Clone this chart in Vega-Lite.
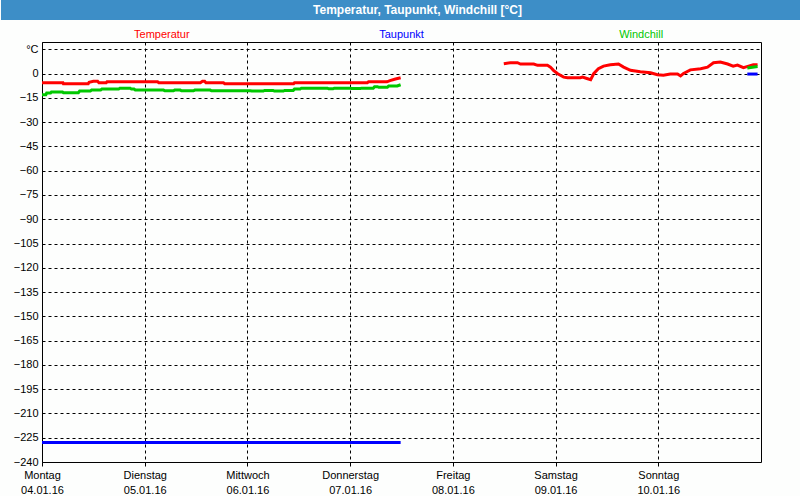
{
  "$schema": "https://vega.github.io/schema/vega-lite/v6.json",
  "background": "#fdfefd",
  "padding": 0,
  "spacing": 8,
  "config": {
    "font": "Liberation Sans",
    "view": {"stroke": "black", "strokeWidth": 1},
    "axis": {
      "labelFont": "Liberation Sans",
      "labelFontSize": 11,
      "labelColor": "black",
      "gridColor": "black",
      "gridDash": [3, 3],
      "gridWidth": 1,
      "gridOpacity": 1,
      "domain": false,
      "tickColor": "black"
    }
  },
  "datasets": {
    "messwerte": [
      {"serie": "Temperatur", "abschnitt": 1, "zeit": "2016-01-04T00:00", "wert": -5.7},
      {"serie": "Temperatur", "abschnitt": 1, "zeit": "2016-01-04T04:54", "wert": -5.7},
      {"serie": "Temperatur", "abschnitt": 1, "zeit": "2016-01-04T05:00", "wert": -6.3},
      {"serie": "Temperatur", "abschnitt": 1, "zeit": "2016-01-04T10:48", "wert": -6.3},
      {"serie": "Temperatur", "abschnitt": 1, "zeit": "2016-01-04T11:00", "wert": -5.4},
      {"serie": "Temperatur", "abschnitt": 1, "zeit": "2016-01-04T12:00", "wert": -4.8},
      {"serie": "Temperatur", "abschnitt": 1, "zeit": "2016-01-04T13:00", "wert": -4.8},
      {"serie": "Temperatur", "abschnitt": 1, "zeit": "2016-01-04T13:18", "wert": -5.7},
      {"serie": "Temperatur", "abschnitt": 1, "zeit": "2016-01-04T15:00", "wert": -5.7},
      {"serie": "Temperatur", "abschnitt": 1, "zeit": "2016-01-04T15:12", "wert": -5.1},
      {"serie": "Temperatur", "abschnitt": 1, "zeit": "2016-01-05T03:00", "wert": -5.1},
      {"serie": "Temperatur", "abschnitt": 1, "zeit": "2016-01-05T03:18", "wert": -5.7},
      {"serie": "Temperatur", "abschnitt": 1, "zeit": "2016-01-05T13:00", "wert": -5.7},
      {"serie": "Temperatur", "abschnitt": 1, "zeit": "2016-01-05T13:30", "wert": -4.8},
      {"serie": "Temperatur", "abschnitt": 1, "zeit": "2016-01-05T14:00", "wert": -4.8},
      {"serie": "Temperatur", "abschnitt": 1, "zeit": "2016-01-05T14:18", "wert": -5.7},
      {"serie": "Temperatur", "abschnitt": 1, "zeit": "2016-01-05T18:24", "wert": -5.7},
      {"serie": "Temperatur", "abschnitt": 1, "zeit": "2016-01-05T18:42", "wert": -6.3},
      {"serie": "Temperatur", "abschnitt": 1, "zeit": "2016-01-06T10:48", "wert": -6.3},
      {"serie": "Temperatur", "abschnitt": 1, "zeit": "2016-01-06T11:00", "wert": -5.7},
      {"serie": "Temperatur", "abschnitt": 1, "zeit": "2016-01-07T04:00", "wert": -5.7},
      {"serie": "Temperatur", "abschnitt": 1, "zeit": "2016-01-07T04:18", "wert": -5.1},
      {"serie": "Temperatur", "abschnitt": 1, "zeit": "2016-01-07T08:36", "wert": -5.1},
      {"serie": "Temperatur", "abschnitt": 1, "zeit": "2016-01-07T09:18", "wert": -4.4},
      {"serie": "Temperatur", "abschnitt": 1, "zeit": "2016-01-07T10:36", "wert": -3.4},
      {"serie": "Temperatur", "abschnitt": 1, "zeit": "2016-01-07T11:48", "wert": -2.6},

      {"serie": "Temperatur", "abschnitt": 2, "zeit": "2016-01-08T11:54", "wert": 6.1},
      {"serie": "Temperatur", "abschnitt": 2, "zeit": "2016-01-08T13:30", "wert": 6.7},
      {"serie": "Temperatur", "abschnitt": 2, "zeit": "2016-01-08T15:06", "wert": 6.7},
      {"serie": "Temperatur", "abschnitt": 2, "zeit": "2016-01-08T15:48", "wert": 5.9},
      {"serie": "Temperatur", "abschnitt": 2, "zeit": "2016-01-08T18:54", "wert": 5.9},
      {"serie": "Temperatur", "abschnitt": 2, "zeit": "2016-01-08T19:48", "wert": 5.1},
      {"serie": "Temperatur", "abschnitt": 2, "zeit": "2016-01-08T22:06", "wert": 5.1},
      {"serie": "Temperatur", "abschnitt": 2, "zeit": "2016-01-08T22:48", "wert": 4.0},
      {"serie": "Temperatur", "abschnitt": 2, "zeit": "2016-01-08T23:30", "wert": 2.0},
      {"serie": "Temperatur", "abschnitt": 2, "zeit": "2016-01-09T00:30", "wert": -0.1},
      {"serie": "Temperatur", "abschnitt": 2, "zeit": "2016-01-09T01:54", "wert": -2.2},
      {"serie": "Temperatur", "abschnitt": 2, "zeit": "2016-01-09T02:48", "wert": -2.6},
      {"serie": "Temperatur", "abschnitt": 2, "zeit": "2016-01-09T05:48", "wert": -2.6},
      {"serie": "Temperatur", "abschnitt": 2, "zeit": "2016-01-09T06:18", "wert": -2.2},
      {"serie": "Temperatur", "abschnitt": 2, "zeit": "2016-01-09T07:30", "wert": -3.2},
      {"serie": "Temperatur", "abschnitt": 2, "zeit": "2016-01-09T08:12", "wert": -3.8},
      {"serie": "Temperatur", "abschnitt": 2, "zeit": "2016-01-09T08:54", "wert": -0.1},
      {"serie": "Temperatur", "abschnitt": 2, "zeit": "2016-01-09T10:00", "wert": 3.0},
      {"serie": "Temperatur", "abschnitt": 2, "zeit": "2016-01-09T11:12", "wert": 4.6},
      {"serie": "Temperatur", "abschnitt": 2, "zeit": "2016-01-09T12:48", "wert": 5.4},
      {"serie": "Temperatur", "abschnitt": 2, "zeit": "2016-01-09T14:42", "wert": 5.9},
      {"serie": "Temperatur", "abschnitt": 2, "zeit": "2016-01-09T15:54", "wert": 4.0},
      {"serie": "Temperatur", "abschnitt": 2, "zeit": "2016-01-09T17:30", "wert": 2.0},
      {"serie": "Temperatur", "abschnitt": 2, "zeit": "2016-01-09T19:48", "wert": 1.1},
      {"serie": "Temperatur", "abschnitt": 2, "zeit": "2016-01-09T22:12", "wert": 0.5},
      {"serie": "Temperatur", "abschnitt": 2, "zeit": "2016-01-09T23:48", "wert": -0.7},
      {"serie": "Temperatur", "abschnitt": 2, "zeit": "2016-01-10T01:12", "wert": -1.1},
      {"serie": "Temperatur", "abschnitt": 2, "zeit": "2016-01-10T02:48", "wert": -0.3},
      {"serie": "Temperatur", "abschnitt": 2, "zeit": "2016-01-10T04:30", "wert": -0.3},
      {"serie": "Temperatur", "abschnitt": 2, "zeit": "2016-01-10T05:12", "wert": -1.5},
      {"serie": "Temperatur", "abschnitt": 2, "zeit": "2016-01-10T05:54", "wert": 0.1},
      {"serie": "Temperatur", "abschnitt": 2, "zeit": "2016-01-10T07:30", "wert": 2.3},
      {"serie": "Temperatur", "abschnitt": 2, "zeit": "2016-01-10T09:54", "wert": 3.0},
      {"serie": "Temperatur", "abschnitt": 2, "zeit": "2016-01-10T11:30", "wert": 4.0},
      {"serie": "Temperatur", "abschnitt": 2, "zeit": "2016-01-10T12:54", "wert": 6.7},
      {"serie": "Temperatur", "abschnitt": 2, "zeit": "2016-01-10T14:30", "wert": 7.1},
      {"serie": "Temperatur", "abschnitt": 2, "zeit": "2016-01-10T16:12", "wert": 5.9},
      {"serie": "Temperatur", "abschnitt": 2, "zeit": "2016-01-10T17:30", "wert": 4.6},
      {"serie": "Temperatur", "abschnitt": 2, "zeit": "2016-01-10T18:30", "wert": 5.2},
      {"serie": "Temperatur", "abschnitt": 2, "zeit": "2016-01-10T19:54", "wert": 3.6},
      {"serie": "Temperatur", "abschnitt": 2, "zeit": "2016-01-10T21:06", "wert": 4.6},
      {"serie": "Temperatur", "abschnitt": 2, "zeit": "2016-01-10T22:12", "wert": 5.4},
      {"serie": "Temperatur", "abschnitt": 2, "zeit": "2016-01-10T23:12", "wert": 5.4},

      {"serie": "Taupunkt", "abschnitt": 1, "zeit": "2016-01-04T00:00", "wert": -228},
      {"serie": "Taupunkt", "abschnitt": 1, "zeit": "2016-01-07T11:48", "wert": -228},
      {"serie": "Taupunkt", "abschnitt": 2, "zeit": "2016-01-10T20:48", "wert": -0.3},
      {"serie": "Taupunkt", "abschnitt": 2, "zeit": "2016-01-10T23:12", "wert": -0.3},

      {"serie": "Windchill", "abschnitt": 1, "zeit": "2016-01-04T00:00", "wert": -13.1},
      {"serie": "Windchill", "abschnitt": 1, "zeit": "2016-01-04T00:54", "wert": -13.1},
      {"serie": "Windchill", "abschnitt": 1, "zeit": "2016-01-04T01:06", "wert": -12.0},
      {"serie": "Windchill", "abschnitt": 1, "zeit": "2016-01-04T02:00", "wert": -12.0},
      {"serie": "Windchill", "abschnitt": 1, "zeit": "2016-01-04T02:12", "wert": -11.4},
      {"serie": "Windchill", "abschnitt": 1, "zeit": "2016-01-04T04:48", "wert": -11.4},
      {"serie": "Windchill", "abschnitt": 1, "zeit": "2016-01-04T05:00", "wert": -11.8},
      {"serie": "Windchill", "abschnitt": 1, "zeit": "2016-01-04T08:30", "wert": -11.8},
      {"serie": "Windchill", "abschnitt": 1, "zeit": "2016-01-04T08:48", "wert": -10.8},
      {"serie": "Windchill", "abschnitt": 1, "zeit": "2016-01-04T11:18", "wert": -10.8},
      {"serie": "Windchill", "abschnitt": 1, "zeit": "2016-01-04T11:36", "wert": -10.2},
      {"serie": "Windchill", "abschnitt": 1, "zeit": "2016-01-04T13:42", "wert": -10.2},
      {"serie": "Windchill", "abschnitt": 1, "zeit": "2016-01-04T14:00", "wert": -9.6},
      {"serie": "Windchill", "abschnitt": 1, "zeit": "2016-01-04T17:54", "wert": -9.6},
      {"serie": "Windchill", "abschnitt": 1, "zeit": "2016-01-04T18:12", "wert": -9.0},
      {"serie": "Windchill", "abschnitt": 1, "zeit": "2016-01-04T20:36", "wert": -9.0},
      {"serie": "Windchill", "abschnitt": 1, "zeit": "2016-01-04T20:54", "wert": -9.6},
      {"serie": "Windchill", "abschnitt": 1, "zeit": "2016-01-04T21:30", "wert": -9.6},
      {"serie": "Windchill", "abschnitt": 1, "zeit": "2016-01-04T21:48", "wert": -10.2},
      {"serie": "Windchill", "abschnitt": 1, "zeit": "2016-01-05T04:24", "wert": -10.2},
      {"serie": "Windchill", "abschnitt": 1, "zeit": "2016-01-05T04:42", "wert": -10.6},
      {"serie": "Windchill", "abschnitt": 1, "zeit": "2016-01-05T06:42", "wert": -10.6},
      {"serie": "Windchill", "abschnitt": 1, "zeit": "2016-01-05T07:00", "wert": -10.2},
      {"serie": "Windchill", "abschnitt": 1, "zeit": "2016-01-05T08:18", "wert": -10.2},
      {"serie": "Windchill", "abschnitt": 1, "zeit": "2016-01-05T08:36", "wert": -10.6},
      {"serie": "Windchill", "abschnitt": 1, "zeit": "2016-01-05T11:24", "wert": -10.6},
      {"serie": "Windchill", "abschnitt": 1, "zeit": "2016-01-05T11:42", "wert": -10.2},
      {"serie": "Windchill", "abschnitt": 1, "zeit": "2016-01-05T15:18", "wert": -10.2},
      {"serie": "Windchill", "abschnitt": 1, "zeit": "2016-01-05T15:36", "wert": -10.6},
      {"serie": "Windchill", "abschnitt": 1, "zeit": "2016-01-06T00:42", "wert": -10.6},
      {"serie": "Windchill", "abschnitt": 1, "zeit": "2016-01-06T01:00", "wert": -10.8},
      {"serie": "Windchill", "abschnitt": 1, "zeit": "2016-01-06T03:42", "wert": -10.8},
      {"serie": "Windchill", "abschnitt": 1, "zeit": "2016-01-06T04:00", "wert": -10.4},
      {"serie": "Windchill", "abschnitt": 1, "zeit": "2016-01-06T06:00", "wert": -10.4},
      {"serie": "Windchill", "abschnitt": 1, "zeit": "2016-01-06T06:18", "wert": -10.8},
      {"serie": "Windchill", "abschnitt": 1, "zeit": "2016-01-06T08:24", "wert": -10.8},
      {"serie": "Windchill", "abschnitt": 1, "zeit": "2016-01-06T08:42", "wert": -10.4},
      {"serie": "Windchill", "abschnitt": 1, "zeit": "2016-01-06T10:42", "wert": -10.4},
      {"serie": "Windchill", "abschnitt": 1, "zeit": "2016-01-06T11:00", "wert": -9.6},
      {"serie": "Windchill", "abschnitt": 1, "zeit": "2016-01-06T12:18", "wert": -9.6},
      {"serie": "Windchill", "abschnitt": 1, "zeit": "2016-01-06T12:36", "wert": -9.0},
      {"serie": "Windchill", "abschnitt": 1, "zeit": "2016-01-06T18:42", "wert": -9.0},
      {"serie": "Windchill", "abschnitt": 1, "zeit": "2016-01-06T19:00", "wert": -9.4},
      {"serie": "Windchill", "abschnitt": 1, "zeit": "2016-01-06T20:00", "wert": -9.4},
      {"serie": "Windchill", "abschnitt": 1, "zeit": "2016-01-06T20:18", "wert": -9.0},
      {"serie": "Windchill", "abschnitt": 1, "zeit": "2016-01-07T00:00", "wert": -9.0},
      {"serie": "Windchill", "abschnitt": 1, "zeit": "2016-01-07T00:18", "wert": -9.2},
      {"serie": "Windchill", "abschnitt": 1, "zeit": "2016-01-07T02:24", "wert": -9.2},
      {"serie": "Windchill", "abschnitt": 1, "zeit": "2016-01-07T02:42", "wert": -9.0},
      {"serie": "Windchill", "abschnitt": 1, "zeit": "2016-01-07T05:24", "wert": -9.0},
      {"serie": "Windchill", "abschnitt": 1, "zeit": "2016-01-07T05:42", "wert": -8.1},
      {"serie": "Windchill", "abschnitt": 1, "zeit": "2016-01-07T06:24", "wert": -8.1},
      {"serie": "Windchill", "abschnitt": 1, "zeit": "2016-01-07T06:42", "wert": -8.5},
      {"serie": "Windchill", "abschnitt": 1, "zeit": "2016-01-07T08:42", "wert": -8.5},
      {"serie": "Windchill", "abschnitt": 1, "zeit": "2016-01-07T09:00", "wert": -7.7},
      {"serie": "Windchill", "abschnitt": 1, "zeit": "2016-01-07T11:00", "wert": -7.7},
      {"serie": "Windchill", "abschnitt": 1, "zeit": "2016-01-07T11:48", "wert": -6.9},
      {"serie": "Windchill", "abschnitt": 2, "zeit": "2016-01-10T20:48", "wert": 3.4},
      {"serie": "Windchill", "abschnitt": 2, "zeit": "2016-01-10T23:12", "wert": 4.4}
    ],
    "legende": [
      {"serie": "Temperatur", "zeit": "2016-01-05T04:00", "wert": 24},
      {"serie": "Taupunkt", "zeit": "2016-01-07T12:00", "wert": 24},
      {"serie": "Windchill", "zeit": "2016-01-09T20:00", "wert": 24}
    ]
  },
  "vconcat": [
    {
      "width": 759,
      "height": 20,
      "view": {"fill": "#3d8ec7", "stroke": null},
      "data": {"values": [{"titel": "Temperatur, Taupunkt, Windchill [°C]", "mitte": 0}]},
      "mark": {"type": "text", "font": "Liberation Sans", "fontSize": 12, "fontWeight": "bold", "color": "white", "dx": -4, "baseline": "middle", "align": "center"},
      "encoding": {
        "text": {"field": "titel", "type": "nominal"},
        "y": {
          "field": "mitte",
          "type": "quantitative",
          "scale": {"domain": [-1, 1]},
          "axis": {"title": null, "labels": false, "ticks": false, "grid": false, "domain": true, "domainColor": "#3d8ec7", "domainWidth": 82, "translate": 0}
        }
      }
    },
    {
      "width": 719,
      "height": 420,
      "encoding": {
        "x": {
          "field": "zeit",
          "type": "temporal",
          "title": null,
          "scale": {"domain": [{"year": 2016, "month": 1, "date": 4}, {"year": 2016, "month": 1, "date": 11}]},
          "axis": {
            "values": [
              {"year": 2016, "month": 1, "date": 4},
              {"year": 2016, "month": 1, "date": 5},
              {"year": 2016, "month": 1, "date": 6},
              {"year": 2016, "month": 1, "date": 7},
              {"year": 2016, "month": 1, "date": 8},
              {"year": 2016, "month": 1, "date": 9},
              {"year": 2016, "month": 1, "date": 10}
            ],
            "labelExpr": "[['Sonntag','Montag','Dienstag','Mittwoch','Donnerstag','Freitag','Samstag'][day(datum.value)], timeFormat(datum.value, '%d.%m.%y')]",
            "labelLineHeight": 15,
            "labelBaseline": "top",
            "labelAlign": "center",
            "labelPadding": 3,
            "labelFlush": false,
            "labelOverlap": false,
            "tickSize": 4,
            "ticks": true
          }
        },
        "y": {
          "field": "wert",
          "type": "quantitative",
          "title": null,
          "scale": {"domain": [-240, 19.5], "nice": false, "zero": false},
          "axis": {
            "values": [15, 0, -15, -30, -45, -60, -75, -90, -105, -120, -135, -150, -165, -180, -195, -210, -225, -240],
            "labelExpr": "datum.value == 15 ? '°C' : datum.label",
            "format": "d",
            "ticks": false,
            "labelPadding": 4,
            "labelOverlap": false,
            "labelFlush": false,
            "minExtent": 41,
            "maxExtent": 41
          }
        },
        "color": {
          "field": "serie",
          "type": "nominal",
          "legend": null,
          "scale": {"domain": ["Temperatur", "Taupunkt", "Windchill"], "range": ["#ff0000", "#0000ff", "#00c800"]}
        }
      },
      "layer": [
        {
          "data": {"name": "messwerte"},
          "mark": {"type": "line", "strokeWidth": 3, "interpolate": "linear", "clip": true},
          "encoding": {
            "detail": {"field": "abschnitt", "type": "nominal"}
          }
        },
        {
          "data": {"name": "legende"},
          "mark": {"type": "text", "fontSize": 11, "font": "Liberation Sans", "baseline": "middle", "align": "center"},
          "encoding": {
            "text": {"field": "serie", "type": "nominal"}
          }
        }
      ]
    }
  ]
}
